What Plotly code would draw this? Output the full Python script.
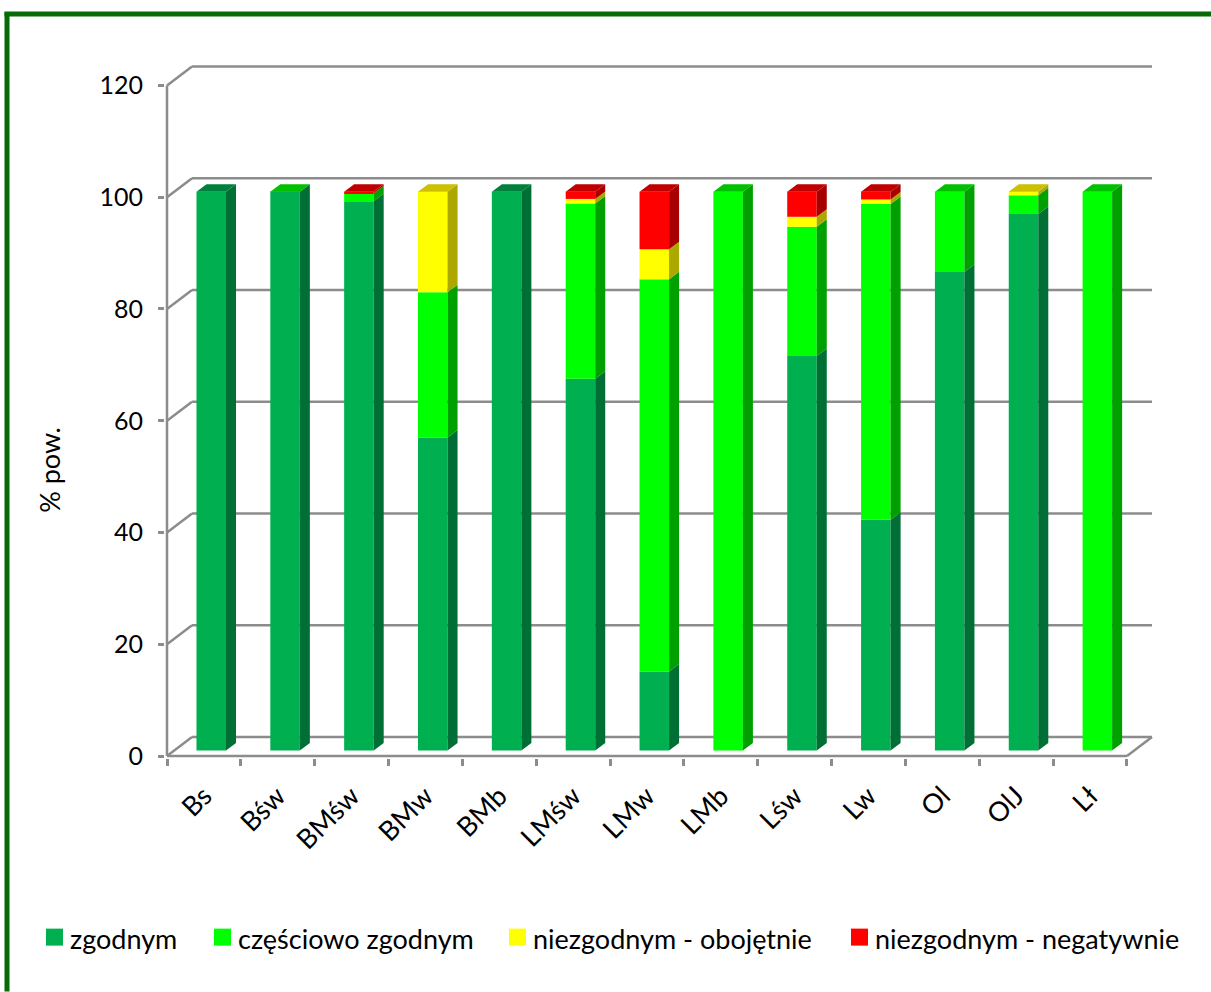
import plotly.graph_objects as go

categories = ["Bs", "Bśw", "BMśw", "BMw", "BMb", "LMśw", "LMw", "LMb", "Lśw", "Lw", "Ol", "OlJ", "Lł"]
zgodnym = [100, 99.98, 98.3, 56, 100, 66.5, 14.1, 0, 70.6, 41.3, 85.6, 96, 0]
czesciowo = [0, 0.02, 1.4, 26, 0, 31.4, 70.2, 100, 23.1, 56.5, 14.4, 3.35, 100]
obojetnie = [0, 0, 0, 18, 0, 0.8, 5.4, 0, 1.8, 0.8, 0, 0.65, 0]
negatywnie = [0, 0, 0.3, 0, 0, 1.3, 10.3, 0, 4.5, 1.4, 0, 0, 0]
y_ticks = [0, 20, 40, 60, 80, 100, 120]

series_names = ["zgodnym", "częściowo zgodnym", "niezgodnym - obojętnie", "niezgodnym - negatywnie"]
series_values = [zgodnym, czesciowo, obojetnie, negatywnie]
front_colors = ["#00b050", "#00ff00", "#ffff00", "#ff0000"]
side_colors = ["#006f35", "#00a000", "#aca800", "#a80000"]
top_colors = ["#00803c", "#00c000", "#ccc000", "#c00000"]

W, H = 1211, 992
PAD = 2  # spare pixels so the lines on the plot edge are not clipped
LEFT, RIGHT, TOP, BOTTOM = 167 - PAD, 1153, 66 - PAD, 756.3 + PAD
PX_X = (1126 - 167) / len(categories)  # pixels per category
PX_Y = 5.59  # pixels per percent

# depth of the fake 3d box and of the bars, in axis units
wall_dx, wall_dy = 25 / PX_X, 19 / PX_Y
bar_dx, bar_dy = 10 / PX_X, 7.5 / PX_Y
bar_shift, bar_lift = 7.3 / PX_X, 5.6 / PX_Y
bar_width = 29.5 / PX_X

x_min = -0.5
x_end = x_min + len(categories)
x_max = x_end + wall_dx + 1 / PX_X
y_max = (BOTTOM - PAD - TOP) / PX_Y


# paper coordinates run over the plot area, not the whole page
def px(x):
    return (x - LEFT) / (RIGHT - LEFT)


def py(y):
    return (BOTTOM - y) / (BOTTOM - TOP)


fig = go.Figure()

bases = [0] * len(categories)
side_traces, top_traces = [], []
for s, values in enumerate(series_values):
    xs = [i + bar_shift for i in range(len(categories))]
    fig.add_trace(go.Bar(x=xs, y=values, base=[b + bar_lift for b in bases], width=bar_width,
                         marker=dict(color=front_colors[s], line_width=0), name=series_names[s],
                         showlegend=False))
    side_x, side_y, top_x, top_y = [], [], [], []
    for i, v in enumerate(values):
        if v == 0:
            continue
        x0 = xs[i] - bar_width / 2
        x1 = xs[i] + bar_width / 2
        y0 = bases[i] + bar_lift
        y1 = y0 + v
        side_x += [x1, x1 + bar_dx, x1 + bar_dx, x1, x1, None]
        side_y += [y0, y0 + bar_dy, y1 + bar_dy, y1, y0, None]
        # roof only on the highest segment of the stack
        if not any(series_values[k][i] > 0 for k in range(s + 1, len(series_values))):
            top_x += [x0, x0 + bar_dx, x1 + bar_dx, x1, x0, None]
            top_y += [y1, y1 + bar_dy, y1 + bar_dy, y1, y1, None]
        bases[i] += v
    side_traces.append(go.Scatter(x=side_x, y=side_y, mode="lines", fill="toself", fillcolor=side_colors[s],
                                  line_width=0, hoverinfo="skip", showlegend=False))
    top_traces.append(go.Scatter(x=top_x, y=top_y, mode="lines", fill="toself", fillcolor=top_colors[s],
                                 line_width=0, hoverinfo="skip", showlegend=False))
fig.add_traces(side_traces + top_traces)

# back wall grid, left wall diagonals, front axis lines
grid = dict(color="#8c8c8c", width=2.5)
shapes = []
for t in y_ticks:
    shapes.append(dict(type="line", xref="x", yref="y", x0=x_min + wall_dx, x1=x_end + wall_dx,
                       y0=t + wall_dy, y1=t + wall_dy, line=grid, layer="below"))
    shapes.append(dict(type="line", xref="x", yref="y", x0=x_min, x1=x_min + wall_dx, y0=t, y1=t + wall_dy,
                       line=grid, layer="below"))
shapes.append(dict(type="line", xref="x", yref="y", x0=x_min, x1=x_min, y0=0, y1=y_ticks[-1], line=grid, layer="below"))
shapes.append(dict(type="line", xref="x", yref="y", x0=x_min, x1=x_end, y0=0, y1=0, line=grid, layer="below"))
shapes.append(dict(type="line", xref="x", yref="y", x0=x_end, x1=x_end + wall_dx, y0=0, y1=wall_dy,
                   line=grid, layer="below"))

# green frame round the picture, open on the right and at the bottom
frame = dict(color="#066a06", width=5)
shapes.append(dict(type="line", xref="paper", yref="paper", x0=px(4.5), x1=px(W), y0=py(14), y1=py(14), line=frame))
shapes.append(dict(type="line", xref="paper", yref="paper", x0=px(7), x1=px(7), y0=py(12), y1=py(H), line=frame))

# legend, placed by hand to get the spacing of the original
annotations = [dict(text="% pow.", xref="paper", yref="paper", x=px(50), y=py(470), textangle=-90, showarrow=False,
                    xanchor="center", yanchor="middle", font=dict(family="Lato", size=27, color="#000000"))]
legend_swatch = [46, 214, 509, 851]
for s, name in enumerate(series_names):
    shapes.append(dict(type="rect", xref="paper", yref="paper", x0=px(legend_swatch[s]), x1=px(legend_swatch[s] + 17),
                       y0=py(929), y1=py(946), fillcolor=front_colors[s], line_width=0))
    annotations.append(dict(text=name, xref="paper", yref="paper", x=px(legend_swatch[s] + 24), y=py(939),
                            xanchor="left", yanchor="middle", showarrow=False, xshift=-2,
                            font=dict(family="Lato", size=27, color="#000000")))

fig.update_layout(
    width=W, height=H,
    margin=dict(l=LEFT, r=W - RIGHT, t=TOP, b=H - BOTTOM),
    barmode="overlay",
    paper_bgcolor="white",
    plot_bgcolor="white",
    showlegend=False,
    font=dict(family="Lato", size=25, color="#000000"),
    shapes=shapes,
    annotations=annotations,
)
fig.update_xaxes(
    range=[x_min - PAD / PX_X, x_max], tickmode="array", tickvals=list(range(len(categories))), ticktext=categories,
    tickangle=-45, ticks="", showgrid=False, zeroline=False, showline=False, ticklabelstandoff=16,
    tickfont=dict(family="Lato", size=27, color="#000000"),
    minor=dict(tickmode="array", tickvals=[x_min + i for i in range(len(categories) + 1)], ticks="outside",
               ticklen=7, tickwidth=2.5, tickcolor="#8c8c8c", showgrid=False),
)
fig.update_yaxes(
    range=[-PAD / PX_Y, y_max], tickmode="array", tickvals=y_ticks, ticks="outside", ticklen=6, tickwidth=2.5,
    tickcolor="#8c8c8c", showgrid=False, zeroline=False, showline=False, ticklabelstandoff=10,
)

# page has a default body margin that would push the figure off the window
fig.write_html("out.html", config=dict(displayModeBar=False),
               post_script="document.body.style.margin='0';document.documentElement.style.overflow='hidden';")
